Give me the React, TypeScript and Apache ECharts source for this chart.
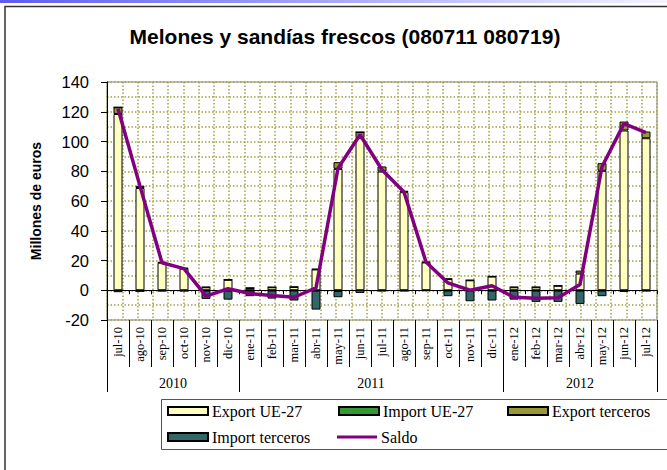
import React, { useEffect, useRef } from 'react';
import * as echarts from 'echarts';

const months = [
  'jul-10', 'ago-10', 'sep-10', 'oct-10', 'nov-10', 'dic-10',
  'ene-11', 'feb-11', 'mar-11', 'abr-11', 'may-11', 'jun-11',
  'jul-11', 'ago-11', 'sep-11', 'oct-11', 'nov-11', 'dic-11',
  'ene-12', 'feb-12', 'mar-12', 'abr-12', 'may-12', 'jun-12', 'jul-12',
];
const years = ['2010', '2011', '2012'];

const exportUE = [118.5, 68.7, 18.5, 14.6, 2.0, 7.0, 1.5, 2.0, 2.2, 14.0, 81.6, 102.3, 79.8, 65.9, 18.7, 7.5, 6.7, 9.2, 2.0, 2.0, 3.0, 11.2, 80.3, 107.4, 102.2];
const importUE = [-1.3, -0.5, -0.3, -0.3, -0.3, -0.3, -0.2, -0.2, -0.2, -0.3, -0.5, -1.8, -0.3, -0.3, -0.2, -0.3, -0.3, -0.3, -0.3, -0.3, -0.3, -0.3, -0.3, -0.5, -0.3];
const exportTerceros = [4.5, 1.5, 0.5, 0.4, 0.2, 0.2, 0.1, 0.1, 0.1, 0.3, 4.5, 4.0, 3.4, 1.0, 0.3, 0.3, 0.1, 0.2, 0.2, 0.2, 0.1, 2.0, 5.1, 6.0, 4.5];
const importTerceros = [0, -0.2, -0.3, -0.3, -5.5, -6.0, -3.8, -5.4, -6.7, -12.7, -4.2, 0, -0.2, -0.2, -0.1, -3.7, -7.1, -6.6, -6.0, -7.5, -7.5, -8.9, -3.7, -0.5, -0.2];
const saldo = [122, 70, 18.5, 14.5, -4, 1, -2.2, -3.6, -4.7, 1.6, 82, 104.5, 81, 66, 19, 4.9, 0, 3, -4.7, -5.4, -5, 3.8, 83, 112, 106];

const SERIF = '"Liberation Serif", "Times New Roman", serif';
const SANS = '"Liberation Sans", Arial, sans-serif';
const GRIDC = '#a3a342';

export default function App() {
  const ref = useRef<HTMLDivElement>(null);

  useEffect(() => {
    const chart = echarts.init(ref.current!, null, { renderer: 'svg' });

    const yearOf = (m: string) => '20' + m.slice(-2);
    const bounds: number[] = [0];
    for (let i = 1; i < months.length; i++) {
      if (yearOf(months[i]) !== yearOf(months[i - 1])) bounds.push(i);
    }
    bounds.push(months.length);
    const centers = bounds.slice(0, -1).map((b, i) => (b + bounds[i + 1]) / 2);

    const legendBase = {
      orient: 'horizontal',
      padding: 0,
      itemWidth: 40,
      itemHeight: 8,
      itemGap: 0,
      icon: 'rect',
      textStyle: { fontFamily: SERIF, fontSize: 16, color: '#000', padding: [0, 0, 0, -1] },
      selectedMode: false,
    };

    const option: any = {
      animation: false,
      backgroundColor: '#fff',
      title: {
        text: 'Melones y sandías frescos (080711 080719)',
        left: 340,
        top: 21,
        textAlign: 'center',
        textStyle: { fontFamily: SANS, fontSize: 21, fontWeight: 'bold', color: '#000' },
      },
      graphic: [
        {
          type: 'rect',
          shape: { x: 0, y: 0, width: 667, height: 3 },
          style: {
            fill: new echarts.graphic.LinearGradient(0, 0, 1, 0, [
              { offset: 0, color: '#5c5cf0' },
              { offset: 1, color: '#f4f4ff' },
            ]),
          },
          silent: true,
        },
        {
          type: 'rect',
          shape: { x: 5, y: 6.5, width: 700, height: 500 },
          style: { fill: 'none', stroke: '#333', lineWidth: 1.5 },
          silent: true,
        },
        {
          type: 'rect',
          shape: { x: 161.5, y: 399.5, width: 540, height: 50 },
          style: { fill: 'none', stroke: '#555', lineWidth: 1 },
          silent: true,
        },
      ],
      legend: [
        { ...legendBase, left: 167, top: 403, data: ['Export UE-27'] },
        { ...legendBase, left: 338, top: 403, data: ['Import UE-27'] },
        { ...legendBase, left: 507, top: 403, data: ['Export terceros'] },
        { ...legendBase, left: 167, top: 429, data: ['Import terceros'] },
        { ...legendBase, left: 337, top: 429, itemHeight: 3, data: [{ name: 'Saldo', icon: 'rect' }] },
      ],
      grid: {
        left: 107,
        right: 10,
        top: 82,
        bottom: 150,
        show: true,
        borderColor: '#808080',
        borderWidth: 1,
        backgroundColor: '#fff',
      },
      xAxis: [
        {
          type: 'category',
          data: months,
          position: 'bottom',
          boundaryGap: true,
          axisLine: { show: false, onZero: false },
          axisTick: { show: true, interval: 0, length: 47, lineStyle: { color: '#000' } },
          axisLabel: {
            interval: 0,
            rotate: 90,
            margin: 7,
            fontFamily: SERIF,
            fontSize: 12.5,
            color: '#000',
          },
          splitLine: { show: false },
        },
        {
          type: 'value',
          min: 0,
          max: months.length,
          position: 'bottom',
          axisLine: { show: false, onZero: false },
          splitLine: { show: false },
          axisTick: { show: true, customValues: bounds, length: 72, lineStyle: { color: '#000' } },
          axisLabel: {
            customValues: centers,
            formatter: (v: number) => years[centers.indexOf(v)] ?? '',
            margin: 56,
            fontFamily: SERIF,
            fontSize: 14,
            color: '#000',
          },
        },
        {
          type: 'category',
          data: months,
          position: 'bottom',
          boundaryGap: true,
          axisLine: { show: true, onZero: true, lineStyle: { color: '#000', width: 1 } },
          axisTick: { show: true, interval: 0, length: 4, lineStyle: { color: '#000' } },
          axisLabel: { show: false },
          splitLine: { show: false },
        },
        {
          type: 'value',
          min: 0,
          max: 36,
          interval: 1,
          position: 'top',
          axisLine: { show: false, onZero: false },
          axisTick: { show: false },
          axisLabel: { show: false },
          splitLine: { show: true, lineStyle: { color: GRIDC, type: [1.5, 2], width: 1.5 } },
        },
      ],
      yAxis: {
        type: 'value',
        min: -20,
        max: 140,
        interval: 20,
        name: 'Millones de euros',
        nameLocation: 'middle',
        nameGap: 64,
        nameTextStyle: { fontFamily: SANS, fontSize: 14, fontWeight: 'bold', color: '#000' },
        axisLine: { show: true, onZero: false, lineStyle: { color: '#000', width: 1 } },
        axisTick: { show: true, length: 6, lineStyle: { color: '#000' } },
        axisLabel: { fontFamily: SANS, fontSize: 16.5, color: '#000', margin: 18 },
        splitLine: { show: true, lineStyle: { color: GRIDC, type: [1.5, 2], width: 1.5 } },
        minorTick: { show: false, splitNumber: 2 },
        minorSplitLine: { show: true, lineStyle: { color: GRIDC, type: [1.5, 2], width: 1.5 } },
      },
      series: [
        {
          name: 'Export UE-27',
          type: 'bar',
          stack: 'total',
          barWidth: 9,
          data: exportUE,
          itemStyle: { color: '#ffffc0', borderColor: '#000', borderWidth: 1 },
        },
        {
          name: 'Import UE-27',
          type: 'bar',
          stack: 'total',
          barWidth: 9,
          data: importUE,
          itemStyle: { color: '#339933', borderColor: '#000', borderWidth: 1 },
        },
        {
          name: 'Export terceros',
          type: 'bar',
          stack: 'total',
          barWidth: 9,
          data: exportTerceros,
          itemStyle: { color: '#999933', borderColor: '#000', borderWidth: 1 },
        },
        {
          name: 'Import terceros',
          type: 'bar',
          stack: 'total',
          barWidth: 9,
          data: importTerceros,
          itemStyle: { color: '#336666', borderColor: '#000', borderWidth: 1 },
        },
        {
          name: 'Saldo',
          type: 'line',
          data: saldo,
          symbol: 'none',
          z: 5,
          lineStyle: { color: '#800080', width: 3.5 },
          itemStyle: { color: '#800080', borderWidth: 0 },
        },
      ],
    };

    chart.setOption(option);
    return () => chart.dispose();
  }, []);

  return (
    <div
      ref={ref}
      style={{ position: 'absolute', left: 0, top: 0, width: 667, height: 470 }}
    />
  );
}
